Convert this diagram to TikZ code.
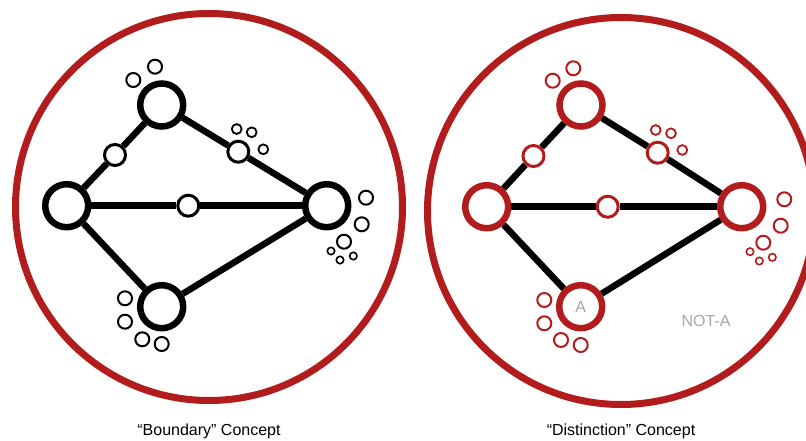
\documentclass[tikz,border=0pt]{standalone}
\usepackage{fontspec}
\setmainfont{Liberation Sans}
\definecolor{cred}{RGB}{178,28,28}
\definecolor{cgray}{RGB}{166,166,166}
\tikzset{
  bigring/.style={circle,draw=cred,line width=7pt,minimum size=387pt,inner sep=0pt},
  hub/.style={circle,draw,fill=white,line width=6.5pt,minimum size=43pt,inner sep=0pt},
  via/.style={circle,draw,fill=white,line width=3pt,minimum size=21pt,inner sep=0pt},
  bub/.style={circle,draw,line width=2pt,minimum size=14pt,inner sep=0pt},
  bubm/.style={bub,minimum size=9.8pt,line width=1.8pt},
  bubs/.style={bub,minimum size=7.4pt,line width=1.6pt},
  link/.style={line width=6.5pt},
  caption/.style={font=\fontsize{16}{19}\selectfont,anchor=base},
  greytext/.style={font=\fontsize{16}{19}\selectfont,text=cgray}
}
\begin{document}
\begin{tikzpicture}[x=1pt,y=-1pt]
\useasboundingbox (0,0) rectangle (806,441);
% ---------- left ----------
\node[bigring] (ringL) at (209,207) {};
\node[hub] (lT) at (161.7,105) {};
\node[hub] (lL) at (66.7,205.7) {};
\node[hub] (lR) at (326.7,205.7) {};
\node[hub] (lB) at (161.7,306.7) {};
\node[via] (lv1) at (115,155) {};
\node[via] (lv2) at (188.3,205.7) {};
\node[via] (lv3) at (238.3,151.7) {};
\draw[link] (lL) -- (lv1) (lv1) -- (lT);
\draw[link] (lT) -- (lv3) (lv3) -- (lR);
\draw[link] (lL) -- (lv2) (lv2) -- (lR);
\draw[link] (lL) -- (lB);
\draw[link] (lB) -- (lR);
\node[bub] (lb1) at (133.3,80) {};
\node[bub] (lb2) at (155,66.7) {};
\node[bubm] (lb3) at (236.7,129) {};
\node[bubm] (lb4) at (251.7,132.3) {};
\node[bubm] (lb5) at (263.3,149.3) {};
\node[bub] (lb6) at (366,197.7) {};
\node[bub] (lb7) at (361.7,224.3) {};
\node[bub] (lb8) at (344,241.7) {};
\node[bubs] (lb9) at (331,251) {};
\node[bubs] (lb10) at (340,260) {};
\node[bubs] (lb11) at (353.3,256) {};
\node[bub] (lb12) at (125,298.3) {};
\node[bub] (lb13) at (125,321.7) {};
\node[bub] (lb14) at (142.3,339.3) {};
\node[bub] (lb15) at (161.7,344) {};
\node[caption] (capL) at (209,435) {“Boundary” Concept};
% ---------- right ----------
\begin{scope}[hub/.append style={draw=cred},via/.append style={draw=cred},bub/.append style={draw=cred}]
\node[bigring] (ringR) at (621,211) {};
\node[hub] (rT) at (581,105) {};
\node[hub] (rL) at (486.7,206.7) {};
\node[hub] (rR) at (741.7,206.7) {};
\node[hub,greytext] (rB) at (580.7,306.7) {A};
\node[via] (rv1) at (533.5,156) {};
\node[via] (rv2) at (607.7,206.7) {};
\node[via] (rv3) at (657.7,152.7) {};
\draw[link] (rL) -- (rv1) (rv1) -- (rT);
\draw[link] (rT) -- (rv3) (rv3) -- (rR);
\draw[link] (rL) -- (rv2) (rv2) -- (rR);
\draw[link] (rL) -- (rB);
\draw[link] (rB) -- (rR);
\node[bub] (rb1) at (552.7,80.7) {};
\node[bub] (rb2) at (573.3,68.3) {};
\node[bubm] (rb3) at (655.7,130) {};
\node[bubm] (rb4) at (671,133.3) {};
\node[bubm] (rb5) at (682.3,150) {};
\node[bub] (rb6) at (784.3,199.3) {};
\node[bub] (rb7) at (780.7,225.7) {};
\node[bub] (rb8) at (763.3,242.7) {};
\node[bubs] (rb9) at (750,251.7) {};
\node[bubs] (rb10) at (759.3,261) {};
\node[bubs] (rb11) at (772.3,257.3) {};
\node[bub] (rb12) at (544.3,300) {};
\node[bub] (rb13) at (544.3,323.3) {};
\node[bub] (rb14) at (561,340) {};
\node[bub] (rb15) at (580.7,345) {};
\end{scope}
\node[greytext] (notA) at (706,321) {NOT-A};
\node[caption] (capR) at (621,435) {“Distinction” Concept};
\end{tikzpicture}
\end{document}
